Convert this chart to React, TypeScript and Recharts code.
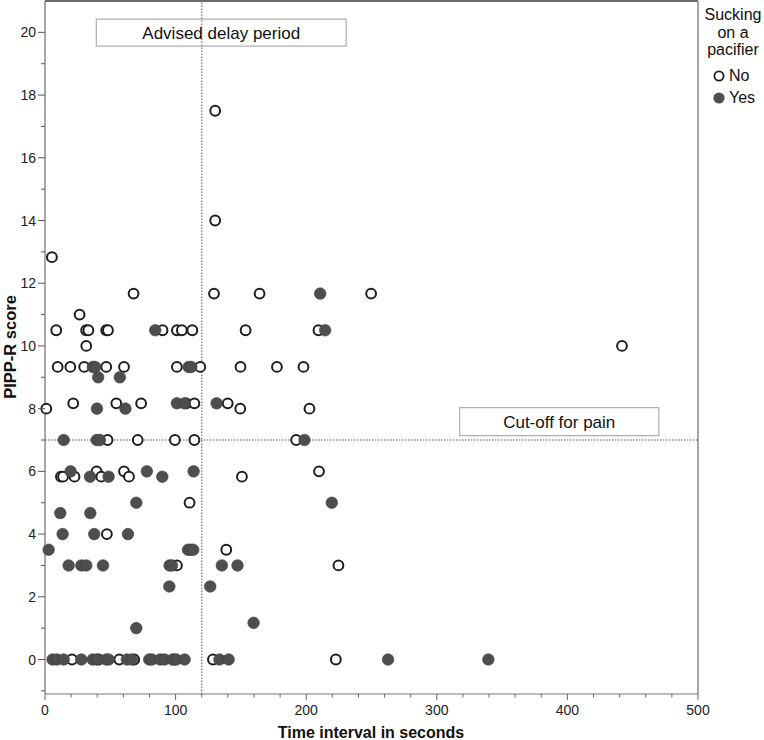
import {
  ScatterChart,
  Scatter,
  XAxis,
  YAxis,
  ReferenceLine,
  ReferenceArea,
} from 'recharts';

// time interval (s) and PIPP-R score, not sucking on a pacifier
const NO_TIME = [
  1, 5.3, 8.6, 9.7, 12.2, 13.8, 19.4, 20.7, 21.6, 22.6,
  26.5, 30, 31.6, 31.5, 33.2, 39.5, 41, 43.1, 46.9, 48.2,
  46.9, 47.4, 47.9, 54.6, 56.9, 60.5, 60.5, 64.3, 67.8, 68.3,
  71, 73.6, 90, 99, 99.5, 101, 104.8, 101, 101, 108.2,
  110.7, 112.8, 114.4, 114.4, 118.9, 128.6, 129.4, 130.3, 130.3, 138.8,
  139.9, 149.5, 149.7, 150.8, 153.6, 164.3, 177.6, 192.3, 197.9, 202.5,
  209.4, 209.8, 222.7, 224.7, 249.7, 441.8,
];
const NO_SCORE = [
  8, 12.83, 10.5, 9.33, 5.83, 5.83, 9.33, 0, 8.17, 5.83,
  11, 9.33, 10, 10.5, 10.5, 6, 0, 5.83, 10.5, 10.5,
  9.33, 4, 7, 8.17, 0, 9.33, 6, 5.83, 11.67, 0,
  7, 8.17, 10.5, 0, 7, 10.5, 10.5, 9.33, 3, 8.17,
  5, 10.5, 8.17, 7, 9.33, 0, 11.67, 17.5, 14, 3.5,
  8.17, 8, 9.33, 5.83, 10.5, 11.67, 9.33, 7, 9.33, 8,
  10.5, 6, 0, 3, 11.67, 10,
];

// sucking on a pacifier
const YES_TIME = [
  2.8, 5.8, 9.2, 11.7, 13.5, 14.3, 14.3, 18.1, 19.6, 27.8,
  27.8, 31.6, 34.5, 34.7, 36.5, 36.6, 38.4, 37.7, 39.8, 39.8,
  39.5, 40.7, 42, 44.4, 46.8, 48.7, 48.7, 57.3, 61.6, 62.7,
  63.5, 66.6, 69.9, 69.9, 78, 79.8, 81.9, 84.4, 88.2, 89.8,
  91.5, 95.2, 95.4, 97.2, 97.7, 100.5, 101, 106.9, 106.8, 109.5,
  111.5, 113.5, 110, 112, 113.8, 126.5, 131.4, 133.6, 135.4, 140.6,
  147.4, 159.7, 198.7, 210.7, 214.5, 219.6, 262.7, 339.5,
];
const YES_SCORE = [
  3.5, 0, 0, 4.67, 4, 0, 7, 3, 6, 0,
  3, 3, 5.83, 4.67, 0, 9.33, 9.33, 4, 0, 8,
  7, 9, 7, 3, 0, 0, 5.83, 9, 8, 0,
  4, 0, 5, 1, 6, 0, 0, 10.5, 0, 5.83,
  0, 2.33, 3, 3, 0, 0, 8.17, 0, 8.17, 3.5,
  3.5, 3.5, 9.33, 9.33, 6, 2.33, 8.17, 0, 3, 0,
  3, 1.17, 7, 11.67, 10.5, 5, 0, 0,
];

const X_TICKS = [
  0, 20, 40, 60, 80, 100, 120, 140, 160, 180, 200, 220, 240,
  260, 280, 300, 320, 340, 360, 380, 400, 420, 440, 460, 480, 500,
];
const X_LABELS = [0, 100, 200, 300, 400, 500];
const Y_TICKS = [-1, 0, 1, 2, 3, 4, 5, 6, 7, 8, 9, 10, 11, 12, 13, 14, 15, 16, 17, 18, 19, 20];
const Y_LABELS = [0, 2, 4, 6, 8, 10, 12, 14, 16, 18, 20];

const DELAY_LIMIT = 120;
const PAIN_CUTOFF = 7;

const FONT = '"Liberation Sans", Arial, sans-serif';

const noData = NO_TIME.map((t, i) => ({ time: t, score: NO_SCORE[i] }));
const yesData = YES_TIME.map((t, i) => ({ time: t, score: YES_SCORE[i] }));

function OpenDot(props: any) {
  const { cx, cy } = props;
  return <circle cx={cx} cy={cy} r={4.9} fill="#fff" stroke="#1e1e1e" strokeWidth={2} />;
}

function FilledDot(props: any) {
  const { cx, cy } = props;
  return <circle cx={cx} cy={cy} r={5.8} fill="#4e4e4e" stroke="#3c3c3c" strokeWidth={0.6} />;
}

function XTick(props: any) {
  const { x, y, payload } = props;
  const major = X_LABELS.includes(payload.value);
  return (
    <g>
      <line x1={x} x2={x} y1={y} y2={y + (major ? 6 : 3.5)} stroke="#666" />
      {major && (
        <text x={x} y={y + 21} textAnchor="middle" fontSize={14} fill="#222" fontFamily={FONT}>
          {payload.value}
        </text>
      )}
    </g>
  );
}

function YTick(props: any) {
  const { x, y, payload } = props;
  const major = Y_LABELS.includes(payload.value);
  return (
    <g>
      <line x1={x - (major ? 7 : 4)} x2={x} y1={y} y2={y} stroke="#555" />
      {major && (
        <text x={x - 9} y={y + 5} textAnchor="end" fontSize={14} fill="#222" fontFamily={FONT}>
          {payload.value}
        </text>
      )}
    </g>
  );
}

export default function App() {
  return (
    <div
      style={{
        position: 'absolute',
        left: 0,
        top: 0,
        width: 764,
        height: 740,
        background: '#fff',
        fontFamily: FONT,
      }}
    >
      <ScatterChart width={764} height={740} margin={{ top: 1, right: 66, bottom: 0, left: 0 }}>
        <XAxis
          type="number"
          dataKey="time"
          domain={[0, 500]}
          ticks={X_TICKS}
          interval={0}
          tickSize={0}
          tickMargin={0}
          tick={<XTick />}
          height={46}
          axisLine={{ stroke: '#777' }}
        />
        <YAxis
          type="number"
          dataKey="score"
          domain={[-1.1, 21]}
          ticks={Y_TICKS}
          interval={0}
          tickSize={0}
          tickMargin={0}
          tick={<YTick />}
          width={45}
          axisLine={{ stroke: '#555' }}
        />
        <ReferenceLine y={21} stroke="#3a3a3a" strokeWidth={1.5} />
        <ReferenceLine x={500} stroke="#8a8a8a" strokeWidth={1.5} />
        <ReferenceLine
          x={DELAY_LIMIT}
          stroke="#8c8c8c"
          strokeWidth={1.5}
          strokeDasharray="1.5 1.5"
        />
        <ReferenceLine
          y={PAIN_CUTOFF}
          stroke="#8c8c8c"
          strokeWidth={1.5}
          strokeDasharray="1.5 1.5"
        />
        <ReferenceArea
          x1={39.3}
          x2={230.6}
          y1={19.56}
          y2={20.42}
          fill="#fff"
          fillOpacity={0}
          stroke="#b0b0b0"
          strokeWidth={1.2}
          label={{ value: 'Advised delay period', position: 'center', fontSize: 17, fill: '#111', fontFamily: FONT }}
        />
        <ReferenceArea
          x1={317.5}
          x2={470}
          y1={7.14}
          y2={8.03}
          fill="#fff"
          fillOpacity={0}
          stroke="#b0b0b0"
          strokeWidth={1.2}
          label={{ value: 'Cut-off for pain', position: 'center', fontSize: 17, fill: '#111', fontFamily: FONT }}
        />
        <Scatter name="No" data={noData} shape={<OpenDot />} isAnimationActive={false} />
        <Scatter name="Yes" data={yesData} shape={<FilledDot />} isAnimationActive={false} />
      </ScatterChart>

      {/* axis titles */}
      <div
        style={{
          position: 'absolute',
          left: 10,
          top: 347,
          transform: 'translate(-50%, -50%) rotate(-90deg)',
          whiteSpace: 'nowrap',
          fontWeight: 'bold',
          fontSize: 16.5,
          lineHeight: '18px',
          color: '#111',
        }}
      >
        PIPP-R score
      </div>
      <div
        style={{
          position: 'absolute',
          left: 371,
          top: 733,
          transform: 'translate(-50%, -50%)',
          whiteSpace: 'nowrap',
          fontWeight: 'bold',
          fontSize: 16,
          color: '#111',
        }}
      >
        Time interval in seconds
      </div>

      {/* legend */}
      <div
        style={{
          position: 'absolute',
          left: 700,
          top: 6,
          width: 66,
          textAlign: 'center',
          fontSize: 16,
          lineHeight: '17.5px',
          color: '#111',
        }}
      >
        Sucking
        <br />
        on a
        <br />
        pacifier
      </div>
      {[
        { name: 'No', y: 76, open: true },
        { name: 'Yes', y: 98, open: false },
      ].map((item) => (
        <div
          key={item.name}
          style={{
            position: 'absolute',
            left: 711,
            top: item.y - 9,
            height: 18,
            display: 'flex',
            alignItems: 'center',
            fontSize: 16,
            color: '#111',
          }}
        >
          <svg width={16} height={16} style={{ marginRight: 2 }}>
            {item.open ? (
              <circle cx={8} cy={8} r={4.6} fill="#fff" stroke="#1e1e1e" strokeWidth={1.8} />
            ) : (
              <circle cx={8} cy={8} r={5.6} fill="#4e4e4e" />
            )}
          </svg>
          {item.name}
        </div>
      ))}
    </div>
  );
}
